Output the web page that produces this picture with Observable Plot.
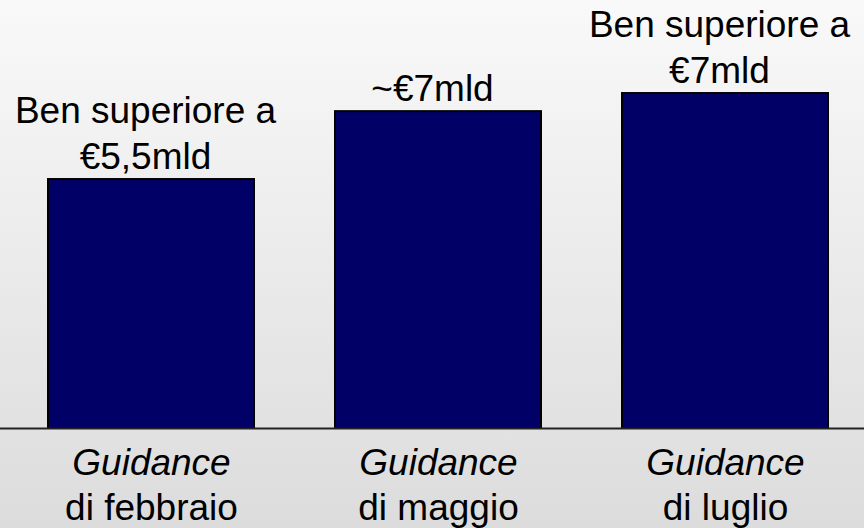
<!DOCTYPE html>
<html>
<head>
<meta charset="utf-8">
<script src="https://cdn.jsdelivr.net/npm/d3@7"></script>
<script src="https://cdn.jsdelivr.net/npm/@observablehq/plot@0.6"></script>
<style>
  html, body { margin: 0; padding: 0; background: #eee; }
</style>
</head>
<body>
<div id="chart"></div>
<script>
const categories = ["di febbraio", "di maggio", "di luglio"];
const prefix = "Guidance";
const values = [5.5, 7.0, 7.4];
const labels = ["Ben superiore a\n€5,5mld", "~€7mld", "Ben superiore a\n€7mld"];

const data = categories.map((c, i) => ({cat: c, value: values[i], label: labels[i]}));

const font = "'Liberation Sans', Arial, sans-serif";

const chart = Plot.plot({
  width: 864,
  height: 528,
  marginLeft: 0,
  marginRight: 0,
  marginTop: 0,
  marginBottom: 100,
  style: {
    background: "linear-gradient(#f9f9f9, #dcdcdc)",
    fontFamily: font,
    fontSize: "37px",
    color: "#000",
    overflow: "visible"
  },
  x: {domain: categories, axis: null, paddingInner: 0.283, paddingOuter: 0.125, insetLeft: 11},
  y: {domain: [0, 9.455], axis: null},
  marks: [
    Plot.barY(data, {x: "cat", y: "value", fill: "#000066", stroke: "#000", strokeWidth: 2}),
    Plot.ruleY([0], {stroke: "#222", strokeWidth: 2}),
    Plot.text(data, {x: "cat", y: "value", text: "label", lineAnchor: "bottom", dx: -6, dy: -11, lineHeight: 1.22, fill: "#000", fontSize: 37}),
    Plot.text(data, {x: "cat", y: 0, text: () => prefix, lineAnchor: "middle", dy: 35, fontStyle: "italic", fill: "#000", fontSize: 37}),
    Plot.text(data, {x: "cat", y: 0, text: "cat", lineAnchor: "middle", dy: 80, fill: "#000", fontSize: 37})
  ]
});
document.getElementById("chart").appendChild(chart);
</script>
</body>
</html>
